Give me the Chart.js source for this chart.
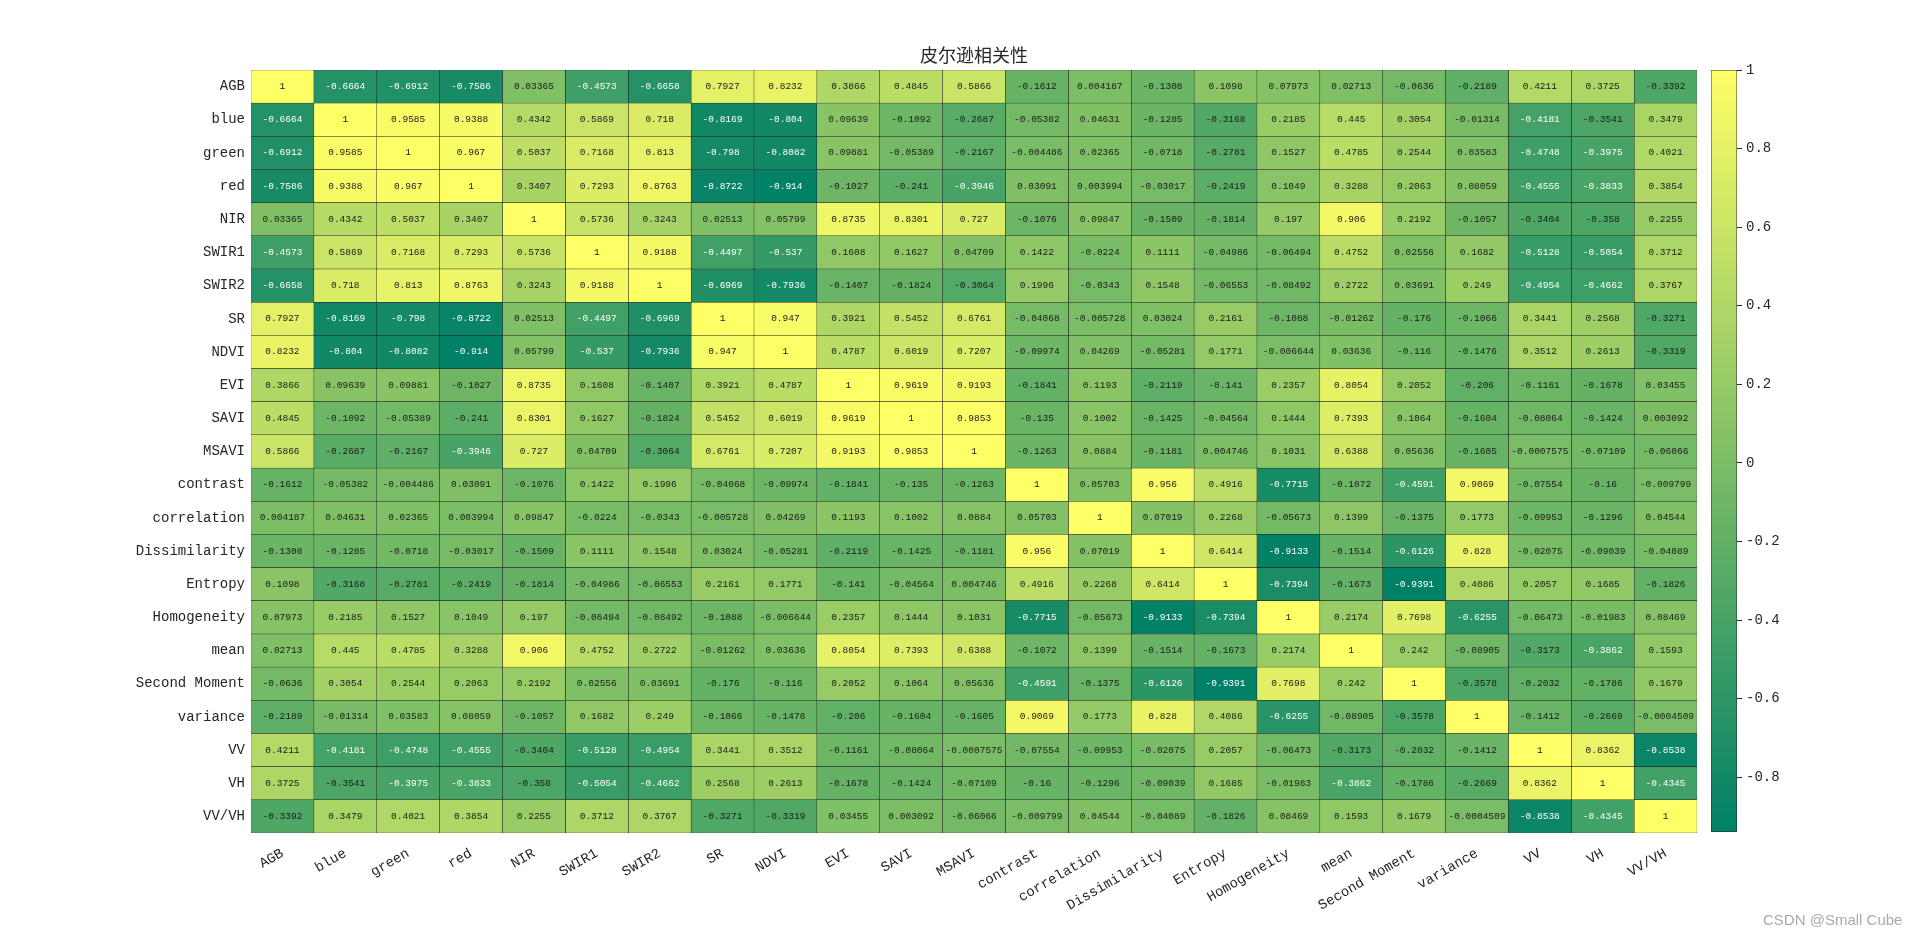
<!DOCTYPE html>
<html>
<head>
<meta charset="utf-8">
<script src="https://cdn.jsdelivr.net/npm/chart.js@4.4.0/dist/chart.umd.min.js"></script>
<style>
  html, body { margin: 0; padding: 0; background: #fff; width: 1920px; height: 937px; overflow: hidden; }
  #main { position: absolute; left: 0; top: 0; }
  #bar { position: absolute; left: 1690px; top: 0; }
  #mark { position: absolute; left: 1763px; top: 911px; font: 15px "Liberation Sans", Arial, sans-serif; color: #aaa; }
</style>
</head>
<body>
<canvas id="main" width="1920" height="937"></canvas>
<canvas id="bar" width="230" height="937"></canvas>
<div id="mark">CSDN @Small Cube</div>
<script>
const title = "皮尔逊相关性";
const labels = ["AGB", "blue", "green", "red", "NIR", "SWIR1", "SWIR2", "SR", "NDVI", "EVI", "SAVI", "MSAVI",
  "contrast", "correlation", "Dissimilarity", "Entropy", "Homogeneity", "mean", "Second Moment", "variance",
  "VV", "VH", "VV/VH"];

// correlation matrix, one row per variable (same order as labels)
const corr = [
  [1, -0.6664, -0.6912, -0.7586, 0.03365, -0.4573, -0.6658, 0.7927, 0.8232, 0.3866, 0.4845, 0.5866, -0.1612, 0.004187, -0.1308, 0.1098, 0.07973, 0.02713, -0.0636, -0.2189, 0.4211, 0.3725, -0.3392],
  [-0.6664, 1, 0.9585, 0.9388, 0.4342, 0.5869, 0.718, -0.8169, -0.804, 0.09639, -0.1092, -0.2687, -0.05382, 0.04631, -0.1285, -0.3168, 0.2185, 0.445, 0.3054, -0.01314, -0.4181, -0.3541, 0.3479],
  [-0.6912, 0.9585, 1, 0.967, 0.5037, 0.7168, 0.813, -0.798, -0.8082, 0.09881, -0.05389, -0.2167, -0.004486, 0.02365, -0.0718, -0.2781, 0.1527, 0.4785, 0.2544, 0.03583, -0.4748, -0.3975, 0.4021],
  [-0.7586, 0.9388, 0.967, 1, 0.3407, 0.7293, 0.8763, -0.8722, -0.914, -0.1027, -0.241, -0.3946, 0.03091, 0.003994, -0.03017, -0.2419, 0.1049, 0.3288, 0.2063, 0.08059, -0.4555, -0.3833, 0.3854],
  [0.03365, 0.4342, 0.5037, 0.3407, 1, 0.5736, 0.3243, 0.02513, 0.05799, 0.8735, 0.8301, 0.727, -0.1076, 0.09847, -0.1509, -0.1814, 0.197, 0.906, 0.2192, -0.1057, -0.3404, -0.358, 0.2255],
  [-0.4573, 0.5869, 0.7168, 0.7293, 0.5736, 1, 0.9188, -0.4497, -0.537, 0.1608, 0.1627, 0.04709, 0.1422, -0.0224, 0.1111, -0.04986, -0.06494, 0.4752, 0.02556, 0.1682, -0.5128, -0.5054, 0.3712],
  [-0.6658, 0.718, 0.813, 0.8763, 0.3243, 0.9188, 1, -0.6969, -0.7936, -0.1407, -0.1824, -0.3064, 0.1996, -0.0343, 0.1548, -0.06553, -0.08492, 0.2722, 0.03691, 0.249, -0.4954, -0.4662, 0.3767],
  [0.7927, -0.8169, -0.798, -0.8722, 0.02513, -0.4497, -0.6969, 1, 0.947, 0.3921, 0.5452, 0.6761, -0.04068, -0.005728, 0.03024, 0.2161, -0.1088, -0.01262, -0.176, -0.1066, 0.3441, 0.2568, -0.3271],
  [0.8232, -0.804, -0.8082, -0.914, 0.05799, -0.537, -0.7936, 0.947, 1, 0.4787, 0.6019, 0.7207, -0.09974, 0.04269, -0.05281, 0.1771, -0.006644, 0.03636, -0.116, -0.1476, 0.3512, 0.2613, -0.3319],
  [0.3866, 0.09639, 0.09881, -0.1027, 0.8735, 0.1608, -0.1407, 0.3921, 0.4787, 1, 0.9619, 0.9193, -0.1841, 0.1193, -0.2119, -0.141, 0.2357, 0.8054, 0.2052, -0.206, -0.1161, -0.1678, 0.03455],
  [0.4845, -0.1092, -0.05389, -0.241, 0.8301, 0.1627, -0.1824, 0.5452, 0.6019, 0.9619, 1, 0.9853, -0.135, 0.1002, -0.1425, -0.04564, 0.1444, 0.7393, 0.1064, -0.1604, -0.08064, -0.1424, 0.003092],
  [0.5866, -0.2687, -0.2167, -0.3946, 0.727, 0.04709, -0.3064, 0.6761, 0.7207, 0.9193, 0.9853, 1, -0.1263, 0.0884, -0.1181, 0.004746, 0.1031, 0.6388, 0.05636, -0.1605, -0.0007575, -0.07109, -0.06066],
  [-0.1612, -0.05382, -0.004486, 0.03091, -0.1076, 0.1422, 0.1996, -0.04068, -0.09974, -0.1841, -0.135, -0.1263, 1, 0.05703, 0.956, 0.4916, -0.7715, -0.1072, -0.4591, 0.9069, -0.07554, -0.16, -0.009799],
  [0.004187, 0.04631, 0.02365, 0.003994, 0.09847, -0.0224, -0.0343, -0.005728, 0.04269, 0.1193, 0.1002, 0.0884, 0.05703, 1, 0.07019, 0.2268, -0.05673, 0.1399, -0.1375, 0.1773, -0.09953, -0.1296, 0.04544],
  [-0.1308, -0.1285, -0.0718, -0.03017, -0.1509, 0.1111, 0.1548, 0.03024, -0.05281, -0.2119, -0.1425, -0.1181, 0.956, 0.07019, 1, 0.6414, -0.9133, -0.1514, -0.6126, 0.828, -0.02075, -0.09039, -0.04089],
  [0.1098, -0.3168, -0.2781, -0.2419, -0.1814, -0.04986, -0.06553, 0.2161, 0.1771, -0.141, -0.04564, 0.004746, 0.4916, 0.2268, 0.6414, 1, -0.7394, -0.1673, -0.9391, 0.4086, 0.2057, 0.1685, -0.1826],
  [0.07973, 0.2185, 0.1527, 0.1049, 0.197, -0.06494, -0.08492, -0.1088, -0.006644, 0.2357, 0.1444, 0.1031, -0.7715, -0.05673, -0.9133, -0.7394, 1, 0.2174, 0.7698, -0.6255, -0.06473, -0.01983, 0.08469],
  [0.02713, 0.445, 0.4785, 0.3288, 0.906, 0.4752, 0.2722, -0.01262, 0.03636, 0.8054, 0.7393, 0.6388, -0.1072, 0.1399, -0.1514, -0.1673, 0.2174, 1, 0.242, -0.08905, -0.3173, -0.3862, 0.1593],
  [-0.0636, 0.3054, 0.2544, 0.2063, 0.2192, 0.02556, 0.03691, -0.176, -0.116, 0.2052, 0.1064, 0.05636, -0.4591, -0.1375, -0.6126, -0.9391, 0.7698, 0.242, 1, -0.3578, -0.2032, -0.1786, 0.1679],
  [-0.2189, -0.01314, 0.03583, 0.08059, -0.1057, 0.1682, 0.249, -0.1066, -0.1476, -0.206, -0.1604, -0.1605, 0.9069, 0.1773, 0.828, 0.4086, -0.6255, -0.08905, -0.3578, 1, -0.1412, -0.2669, -0.0004509],
  [0.4211, -0.4181, -0.4748, -0.4555, -0.3404, -0.5128, -0.4954, 0.3441, 0.3512, -0.1161, -0.08064, -0.0007575, -0.07554, -0.09953, -0.02075, 0.2057, -0.06473, -0.3173, -0.2032, -0.1412, 1, 0.8362, -0.8538],
  [0.3725, -0.3541, -0.3975, -0.3833, -0.358, -0.5054, -0.4662, 0.2568, 0.2613, -0.1678, -0.1424, -0.07109, -0.16, -0.1296, -0.09039, 0.1685, -0.01983, -0.3862, -0.1786, -0.2669, 0.8362, 1, -0.4345],
  [-0.3392, 0.3479, 0.4021, 0.3854, 0.2255, 0.3712, 0.3767, -0.3271, -0.3319, 0.03455, 0.003092, -0.06066, -0.009799, 0.04544, -0.04089, -0.1826, 0.08469, 0.1593, 0.1679, -0.0004509, -0.8538, -0.4345, 1]
];

const cMin = -0.9391;
const cMax = 1;
const cbTicks = [-0.8, -0.6, -0.4, -0.2, 0, 0.2, 0.4, 0.6, 0.8, 1];

const tickFont = { family: '"Liberation Mono", monospace', size: 14 };
const tickColor = "#262626";

// matlab "summer" colormap
function summer(v) {
  const t = (v - cMin) / (cMax - cMin);
  return `rgb(${Math.round(255 * t)},${Math.round(127.5 + 127.5 * t)},102)`;
}

// numbers in the cells + title centred over the cells
const cellText = {
  id: "cellText",
  afterDatasetsDraw(chart) {
    const { ctx, scales, chartArea } = chart;
    ctx.save();
    ctx.font = '9.5px "Liberation Mono", monospace';
    ctx.textAlign = "center";
    ctx.textBaseline = "middle";
    corr.forEach((row, i) => {
      row.forEach((v, j) => {
        ctx.fillStyle = v < -0.377 ? "#ffffff" : "#1a1a1a";
        ctx.fillText(String(v), scales.x.getPixelForValue(j + 0.5), scales.y.getPixelForValue(i));
      });
    });
    ctx.font = '18px "Noto Sans CJK SC", sans-serif';
    ctx.fillStyle = tickColor;
    ctx.fillText(title, (chartArea.left + chartArea.right) / 2, chartArea.top - 15);
    ctx.restore();
  },
};

const datasets = labels.map((name, j) => ({
  label: name,
  data: labels.map(() => 1),
  backgroundColor: corr.map((row) => summer(row[j])),
  borderColor: "#1a1a1a",
  borderWidth: 0.5,
  borderSkipped: false,
  barPercentage: 1,
  categoryPercentage: 1,
}));

new Chart(document.getElementById("main"), {
  type: "bar",
  data: { labels: labels, datasets: datasets },
  options: {
    indexAxis: "y",
    responsive: false,
    animation: false,
    layout: { padding: { left: 0, right: 223, top: 70, bottom: 0 } },
    plugins: {
      legend: { display: false },
      tooltip: { enabled: false },
    },
    scales: {
      x: { type: "linear", stacked: true, min: 0, max: labels.length, display: false },
      xl: {
        type: "category",
        labels: labels,
        position: "bottom",
        offset: true,
        grid: { display: false },
        border: { display: false },
        ticks: { font: tickFont, color: tickColor, minRotation: 30, maxRotation: 30, autoSkip: false, padding: 4 },
        afterFit(s) { s.height = 104; },
      },
      y: {
        type: "category",
        stacked: true,
        offset: true,
        grid: { display: false, drawTicks: false },
        border: { display: false },
        ticks: { font: tickFont, color: tickColor, padding: 6, autoSkip: false },
        afterFit(s) { s.width = 251; },
      },
    },
  },
  plugins: [cellText],
});

new Chart(document.getElementById("bar"), {
  type: "bar",
  data: {
    labels: [""],
    datasets: [{
      data: [[cMin, cMax]],
      backgroundColor: (c) => {
        const a = c.chart.chartArea;
        if (!a) return null;
        const g = c.chart.ctx.createLinearGradient(0, a.bottom, 0, a.top);
        g.addColorStop(0, summer(cMin));
        g.addColorStop(1, summer(cMax));
        return g;
      },
      borderColor: "#262626",
      borderWidth: 0.8,
      borderSkipped: false,
      barPercentage: 1,
      categoryPercentage: 1,
    }],
  },
  options: {
    responsive: false,
    animation: false,
    layout: { padding: { left: 21, top: 70, bottom: 105, right: 0 } },
    plugins: { legend: { display: false }, tooltip: { enabled: false } },
    scales: {
      x: { display: false },
      y: {
        position: "right",
        min: cMin,
        max: cMax,
        afterBuildTicks(s) { s.ticks = cbTicks.map((v) => ({ value: v })); },
        grid: { drawOnChartArea: false, tickLength: 5, color: tickColor },
        border: { display: false },
        ticks: { font: tickFont, color: tickColor, padding: 4, callback: (v) => String(v) },
        afterFit(s) { s.width = 183; },
      },
    },
  },
});
</script>
</body>
</html>
